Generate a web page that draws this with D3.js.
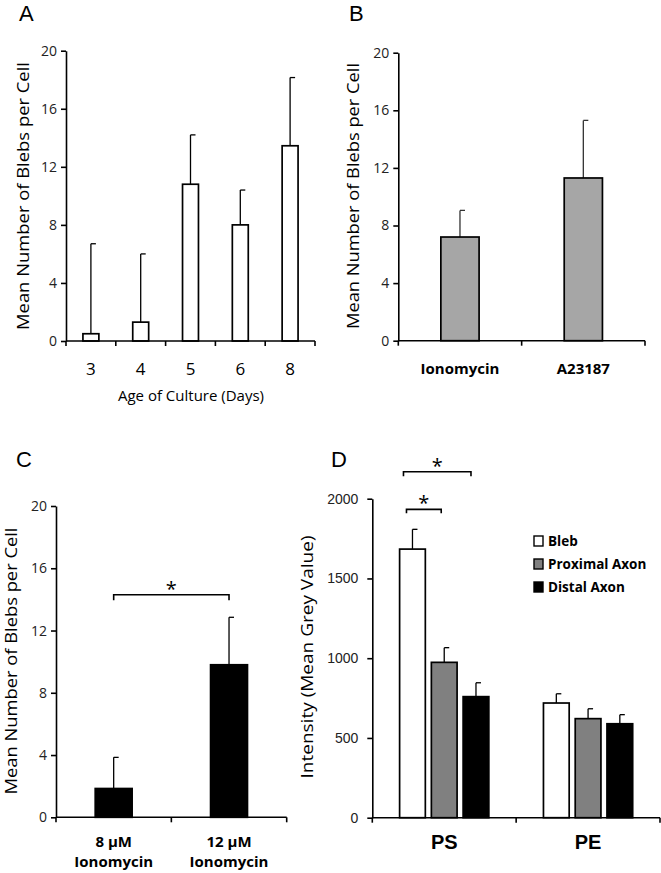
<!DOCTYPE html>
<html><head><meta charset="utf-8">
<script src="https://cdn.jsdelivr.net/npm/d3@7"></script>
<style>body{margin:0;background:#fff}svg{display:block}</style>
</head><body>
<script>
// ---- Data ----
const ageCategories = ["3","4","5","6","8"];
const ageMeans = [0.5, 1.3, 10.8, 8.0, 13.45];
const ageErrTops = [6.7, 6.0, 14.2, 10.4, 18.15];

const drugCategories = ["Ionomycin","A23187"];
const drugMeans = [7.2, 11.3];
const drugErrTops = [9.05, 15.3];

const doseCategories = [["8 µM","Ionomycin"],["12 µM","Ionomycin"]];
const doseMeans = [1.85, 9.8];
const doseErrTops = [3.85, 12.85];

const regionGroups = ["PS","PE"];
const regionSeries = ["Bleb","Proximal Axon","Distal Axon"];
const regionMeans = [[1684, 974, 759],[719, 621, 589]];
const regionErrTops = [[1808, 1066, 846],[777, 683, 646]];

const blebTicks = [0,4,8,12,16,20];
const intensityTicks = [0,500,1000,1500,2000];

const W = 661, H = 873;
const svg = d3.select("body").append("svg").attr("width", W).attr("height", H);
const FONT = "'Open Sans', Arial, sans-serif";
const ARIAL = "'Liberation Sans', Arial, sans-serif";

function panelLetter(t, x, y) {
  svg.append("text").attr("x", x).attr("y", y).text(t)
    .attr("font-family", ARIAL).attr("font-size", 22).attr("fill", "#000");
}

function yTitle(t, cx, cy, len, size, fam) {
  svg.append("text").attr("transform", `translate(${cx},${cy}) rotate(-90)`)
    .attr("text-anchor", "middle").attr("dominant-baseline", "central")
    .attr("font-family", fam || FONT).attr("font-size", size)
    .attr("textLength", len).attr("lengthAdjust", "spacingAndGlyphs").text(t);
}

function simplePanel(opt) {
  const g = svg.append("g");
  const x = d3.scaleBand().domain(opt.cats.map((d, i) => i)).range([opt.x0, opt.x1]).padding(0);
  const y = d3.scaleLinear().domain([0, 20]).range([opt.y0, opt.yTop]);
  const bw = x.bandwidth() * opt.barFrac;
  opt.means.forEach((m, i) => {
    const cx = x(i) + x.bandwidth() / 2;
    g.append("line").attr("x1", cx).attr("x2", cx).attr("y1", y(m)).attr("y2", y(opt.errs[i]))
      .attr("stroke", opt.errColor || "#000").attr("stroke-width", 1.3);
    g.append("line").attr("x1", cx).attr("x2", cx + 5).attr("y1", y(opt.errs[i])).attr("y2", y(opt.errs[i]))
      .attr("stroke", opt.errColor || "#000").attr("stroke-width", 1.3);
  });
  g.selectAll("rect.bar").data(opt.means).join("rect")
    .attr("x", (d, i) => x(i) + (x.bandwidth() - bw) / 2)
    .attr("y", d => y(d)).attr("width", bw).attr("height", d => opt.y0 - y(d))
    .attr("fill", opt.fill).attr("stroke", "#000").attr("stroke-width", 1.7);
  const ya = d3.axisLeft(y).tickValues(blebTicks).tickSize(5).tickSizeOuter(0).tickPadding(4);
  const yg = g.append("g").attr("transform", `translate(${opt.x0},0)`).call(ya);
  yg.select(".domain").attr("stroke-width", 1.6);
  yg.selectAll(".tick line").attr("stroke-width", 1.6);
  yg.selectAll(".tick text").attr("font-family", FONT).attr("font-size", 14).attr("fill", "#222");
  g.append("line").attr("x1", opt.x0).attr("x2", opt.x1).attr("y1", opt.y0).attr("y2", opt.y0)
    .attr("stroke", "#000").attr("stroke-width", 1.6);
  const bounds = opt.cats.map((d, i) => x(i)).concat([opt.x1]);
  bounds.forEach(b => g.append("line").attr("x1", b).attr("x2", b).attr("y1", opt.y0).attr("y2", opt.y0 + 5)
    .attr("stroke", "#000").attr("stroke-width", 1.6));
  return {x, y, g};
}

// ---- Panel A ----
panelLetter("A", 19, 20.5);
const pA = simplePanel({cats: ageCategories, means: ageMeans, errs: ageErrTops, fill: "#fff",
  x0: 66, x1: 315, y0: 341, yTop: 50.7, barFrac: 0.32});
ageCategories.forEach((c, i) => {
  pA.g.append("text").attr("x", pA.x(i) + pA.x.bandwidth() / 2).attr("y", 375)
    .attr("text-anchor", "middle").attr("font-family", FONT).attr("font-size", 17).text(c);
});
svg.append("text").attr("x", 191).attr("y", 401).attr("text-anchor", "middle")
  .attr("font-family", FONT).attr("font-size", 15).text("Age of Culture (Days)");
yTitle("Mean Number of Blebs per Cell", 22, 196, 268, 17);

// ---- Panel B ----
panelLetter("B", 349, 20.5);
const pB = simplePanel({cats: drugCategories, means: drugMeans, errs: drugErrTops, fill: "#a6a6a6",
  x0: 398.3, x1: 645, y0: 340.7, yTop: 52.7, barFrac: 0.31, errColor: "#333"});
drugCategories.forEach((c, i) => {
  pB.g.append("text").attr("x", pB.x(i) + pB.x.bandwidth() / 2).attr("y", 374)
    .attr("text-anchor", "middle").attr("font-family", FONT).attr("font-weight", "bold")
    .attr("font-size", 15).text(c);
});
yTitle("Mean Number of Blebs per Cell", 352, 196, 266, 17);

// ---- Panel C ----
panelLetter("C", 16, 467);
const pC = simplePanel({cats: doseCategories, means: doseMeans, errs: doseErrTops, fill: "#000",
  x0: 56, x1: 286.7, y0: 817.3, yTop: 506, barFrac: 0.32});
doseCategories.forEach((c, i) => {
  const cx = pC.x(i) + pC.x.bandwidth() / 2;
  const t = pC.g.append("text").attr("x", cx).attr("y", 847)
    .attr("text-anchor", "middle").attr("font-family", FONT).attr("font-weight", "bold").attr("font-size", 15);
  t.append("tspan").attr("x", cx).text(c[0]);
  t.append("tspan").attr("x", cx).attr("dy", 20).text(c[1]);
});
{
  const c0 = pC.x(0) + pC.x.bandwidth() / 2, c1 = pC.x(1) + pC.x.bandwidth() / 2;
  const yb = pC.y(14.3), yt = pC.y(13.95);
  pC.g.append("path").attr("d", `M${c0},${yt}V${yb}H${c1}V${yt}`).attr("fill", "none")
    .attr("stroke", "#000").attr("stroke-width", 1.6);
  pC.g.append("text").attr("x", (c0 + c1) / 2).attr("y", yb + 1).attr("text-anchor", "middle")
    .attr("font-family", FONT).attr("font-size", 20).text("*");
}
yTitle("Mean Number of Blebs per Cell", 10, 661, 267, 17);

// ---- Panel D ----
panelLetter("D", 331, 467);
{
  const x0 = 372.3, x1 = 660, y0 = 817.7, yTop = 498.7;
  const g = svg.append("g");
  const xg = d3.scaleBand().domain(regionGroups).range([x0, x1]).padding(0);
  const xs = d3.scaleBand().domain(regionSeries).range([0, xg.bandwidth()]).paddingInner(0.19).paddingOuter(0.86);
  const y = d3.scaleLinear().domain([0, 2000]).range([y0, yTop]);
  const fills = ["#fff", "#808080", "#000"];
  regionGroups.forEach((grp, gi) => {
    regionSeries.forEach((s, si) => {
      const bx = xg(grp) + xs(s), cx = bx + xs.bandwidth() / 2;
      const m = regionMeans[gi][si], e = regionErrTops[gi][si];
      g.append("line").attr("x1", cx).attr("x2", cx).attr("y1", y(m)).attr("y2", y(e))
        .attr("stroke", "#000").attr("stroke-width", 1.3);
      g.append("line").attr("x1", cx).attr("x2", cx + 5).attr("y1", y(e)).attr("y2", y(e))
        .attr("stroke", "#000").attr("stroke-width", 1.3);
      g.append("rect").attr("x", bx).attr("y", y(m)).attr("width", xs.bandwidth()).attr("height", y0 - y(m))
        .attr("fill", fills[si]).attr("stroke", "#000").attr("stroke-width", 1.7);
    });
    g.append("text").attr("x", xg(grp) + xg.bandwidth() / 2).attr("y", 849).attr("text-anchor", "middle")
      .attr("font-family", ARIAL).attr("font-weight", "bold")
      .attr("font-size", 20).text(grp);
  });
  const ya = d3.axisLeft(y).tickValues(intensityTicks).tickFormat(d3.format("d"))
    .tickSize(5).tickSizeOuter(0).tickPadding(9);
  const yg = g.append("g").attr("transform", `translate(${x0},0)`).call(ya);
  yg.select(".domain").attr("stroke-width", 1.6);
  yg.selectAll(".tick line").attr("stroke-width", 1.6);
  yg.selectAll(".tick text").attr("font-family", ARIAL).attr("font-size", 14).attr("fill", "#222");
  g.append("line").attr("x1", x0).attr("x2", x1).attr("y1", y0).attr("y2", y0).attr("stroke", "#000").attr("stroke-width", 1.6);
  [x0, xg("PE"), x1].forEach(b => g.append("line").attr("x1", b).attr("x2", b).attr("y1", y0).attr("y2", y0 + 5)
    .attr("stroke", "#000").attr("stroke-width", 1.6));
  const cB = xg("PS") + xs("Bleb") + xs.bandwidth() / 2;
  const cP = xg("PS") + xs("Proximal Axon") + xs.bandwidth() / 2;
  const cD = xg("PS") + xs("Distal Axon") + xs.bandwidth() / 2;
  const br = (a, b, v, v2) => {
    const yb = y(v), yt = y(v2);
    g.append("path").attr("d", `M${a},${yt}V${yb}H${b}V${yt}`).attr("fill", "none")
      .attr("stroke", "#000").attr("stroke-width", 1.6);
    g.append("text").attr("x", (a + b) / 2).attr("y", yb + 1).attr("text-anchor", "middle")
      .attr("font-family", FONT).attr("font-size", 20).text("*");
  };
  br(cB - 6, cP - 3, 1933, 1908);
  br(cB - 9, cD - 5, 2169, 2140);
  const lx = 534, ly = [541, 564, 587];
  regionSeries.forEach((s, i) => {
    g.append("rect").attr("x", lx).attr("y", ly[i] - 5).attr("width", 9).attr("height", 10)
      .attr("fill", fills[i]).attr("stroke", "#000").attr("stroke-width", 1.4);
    g.append("text").attr("x", lx + 14).attr("y", ly[i]).attr("dominant-baseline", "central")
      .attr("font-family", FONT).attr("font-weight", "bold").attr("font-size", 13.5).text(s);
  });
  yTitle("Intensity (Mean Grey Value)", 307, 657, 243, 16);
}
</script>
</body></html>
